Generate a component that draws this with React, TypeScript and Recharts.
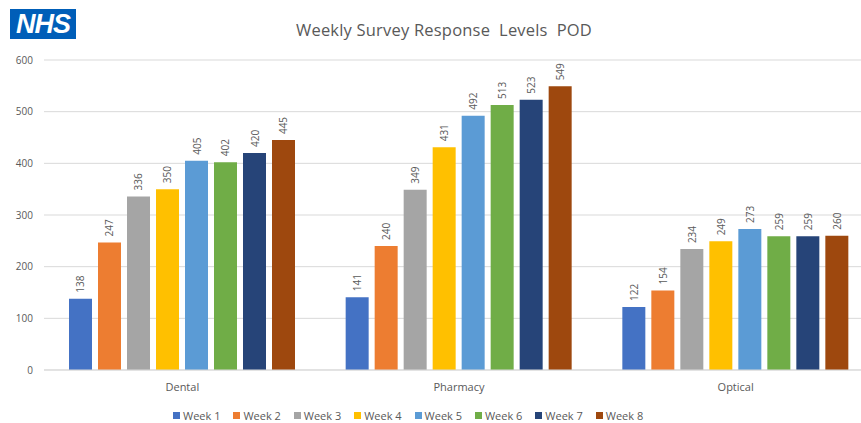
import React from 'react';
import { BarChart, Bar, XAxis, YAxis, CartesianGrid, Legend, LabelList } from 'recharts';

const categories = ['Dental', 'Pharmacy', 'Optical'];
const weeks = ['Week 1', 'Week 2', 'Week 3', 'Week 4', 'Week 5', 'Week 6', 'Week 7', 'Week 8'];
const week1 = [138, 141, 122];
const week2 = [247, 240, 154];
const week3 = [336, 349, 234];
const week4 = [350, 431, 249];
const week5 = [405, 492, 273];
const week6 = [402, 513, 259];
const week7 = [420, 523, 259];
const week8 = [445, 549, 260];
const yTicks = [0, 100, 200, 300, 400, 500, 600];
const colors = ['#4472C4', '#ED7D31', '#A5A5A5', '#FFC000', '#5B9BD5', '#70AD47', '#264478', '#9E480E'];

const series = [week1, week2, week3, week4, week5, week6, week7, week8];
const data = categories.map((c, i) => {
  const row: Record<string, string | number> = { name: c };
  weeks.forEach((w, k) => {
    row[w] = series[k][i];
  });
  return row;
});

const FONT = '"Open Sans", sans-serif';
const GRAY = '#595959';

const RotLabel = (props: any) => {
  const { x, y, width, value } = props;
  const cx = Number(x) + Number(width) / 2;
  const cy = Number(y) - 6;
  return (
    <text
      x={cx}
      y={cy}
      transform={`rotate(-90, ${cx}, ${cy})`}
      textAnchor="start"
      dominantBaseline="central"
      fontSize={10}
      fontFamily={FONT}
      fill={GRAY}
    >
      {value}
    </text>
  );
};

const LegendContent = () => (
  <div style={{ display: 'flex', fontFamily: FONT, fontSize: 11, color: GRAY }}>
    {weeks.map((w, i) => (
      <div key={w} style={{ width: 60.4, display: 'flex', alignItems: 'center' }}>
        <span style={{ display: 'inline-block', width: 7, height: 7, background: colors[i], marginRight: 3 }} />
        <span>{w}</span>
      </div>
    ))}
  </div>
);

export default function App() {
  return (
    <div style={{ position: 'fixed', left: 0, top: 0, width: 861, height: 423, overflow: 'hidden', background: '#fff' }}>
      <div
        style={{
          position: 'absolute',
          left: 10,
          top: 9,
          width: 66,
          height: 30,
          background: '#005EB8',
          color: '#fff',
          fontFamily: '"Liberation Sans", Arial, sans-serif',
          fontWeight: 'bold',
          fontStyle: 'italic',
          fontSize: 27,
          lineHeight: '30px',
          textAlign: 'center',
          letterSpacing: -1,
        }}
      >
        NHS
      </div>
      <div
        style={{
          position: 'absolute',
          left: 244,
          width: 400,
          top: 18,
          textAlign: 'center',
          fontFamily: FONT,
          fontSize: 16.5,
          letterSpacing: 0.2,
          color: GRAY,
          whiteSpace: 'pre',
        }}
      >
        {'Weekly Survey Response  Levels  POD'}
      </div>
      <BarChart
        width={880}
        height={423}
        data={data}
        margin={{ top: 60, right: 6, left: 0, bottom: 23 }}
        barSize={23}
        barGap={6}
      >
        <CartesianGrid vertical={false} stroke="#d9d9d9" />
        <XAxis
          dataKey="name"
          height={30}
          tickLine={false}
          axisLine={{ stroke: '#d9d9d9' }}
          tick={{ fontSize: 11, fill: GRAY, fontFamily: FONT }}
          tickMargin={7}
        />
        <YAxis
          width={44}
          domain={[0, 600]}
          ticks={yTicks}
          axisLine={false}
          tickLine={false}
          tickSize={0}
          tickMargin={11}
          tick={{ fontSize: 10, fill: GRAY, fontFamily: FONT }}
        />
        <Legend
          layout="horizontal"
          verticalAlign="middle"
          align="center"
          content={<LegendContent />}
          wrapperStyle={{ position: 'absolute', top: 408, left: 173, width: 500 }}
        />
        {weeks.map((w, i) => (
          <Bar key={w} dataKey={w} fill={colors[i]} isAnimationActive={false}>
            <LabelList dataKey={w} content={<RotLabel />} />
          </Bar>
        ))}
      </BarChart>
    </div>
  );
}
